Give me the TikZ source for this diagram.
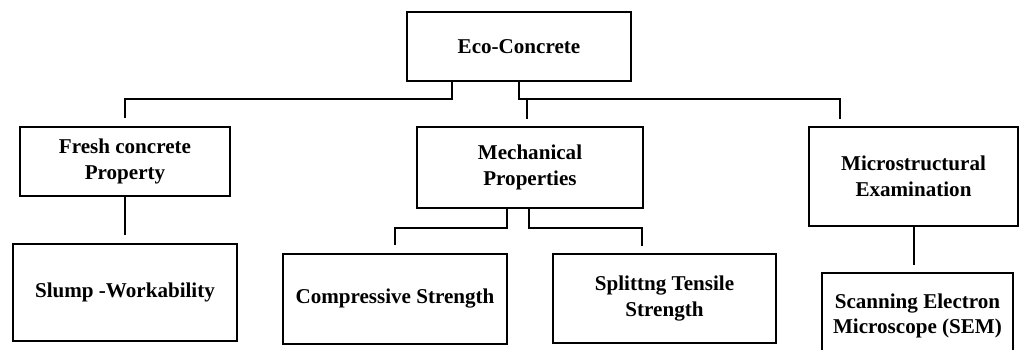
\documentclass[tikz,border=0pt]{standalone}
\usepackage{fontspec}
\setmainfont{Liberation Serif}

\begin{document}
\begin{tikzpicture}[
  x=0.02cm, y=-0.02cm,
  box/.style={draw, line width=1.1pt, align=center, inner sep=0pt,
    font=\fontsize{12}{14.7}\selectfont\bfseries},
  link/.style={line width=1.1pt, shorten >=0.16cm},
]
\useasboundingbox (0,0) rectangle (1019,350);
\clip (0,0) rectangle (1019,350);

\node [box, minimum width=4.48cm, minimum height=1.38cm] (eco) at (519,46.5) {Eco-Concrete};

\node [box, minimum width=4.20cm, minimum height=1.38cm] (fresh) at (125,161.5) {Fresh concrete\\Property};
\node [box, minimum width=4.52cm, minimum height=1.62cm] (mech) at (530,167.5) {Mechanical\\Properties};
\node [box, minimum width=4.18cm, minimum height=1.98cm] (micro) at (913.5,176.5) {Microstructural\\Examination};

\node [box, minimum width=4.48cm, minimum height=1.94cm] (slump) at (125,292.5) {Slump -Workability};
\node [box, minimum width=4.48cm, minimum height=1.80cm] (comp) at (395,299) {Compressive Strength};
\node [box, minimum width=4.46cm, minimum height=1.78cm] (split) at (664.5,298.5) {Splittng Tensile\\Strength};
\node [box, minimum width=3.82cm, minimum height=1.72cm] (sem) at (917.5,316) {Scanning Electron\\Microscope (SEM)};

% junctions
\coordinate (ecoL) at (452,99);
\coordinate (ecoR) at (519,99);
\coordinate (mechTop) at (527,127);
\coordinate (microTop) at (840,127);
\coordinate (mechL) at (507,228);
\coordinate (mechR) at (529,228);
\coordinate (splitTop) at (642,254);
\coordinate (semTop) at (914,273);

\draw [link] (eco.south -| ecoL) -- (ecoL) -| (fresh.north);
\draw [link] (eco.south) -- (ecoR) -| (microTop);
\draw [link] (mechTop |- ecoR) -- (mechTop);

\draw [link] (fresh.south) -- (slump.north);
\draw [link] (mech.south -| mechL) -- (mechL) -| (comp.north);
\draw [link] (mech.south -| mechR) -- (mechR) -| (splitTop);
\draw [link] (micro.south -| semTop) -- (semTop);

\end{tikzpicture}
\end{document}
